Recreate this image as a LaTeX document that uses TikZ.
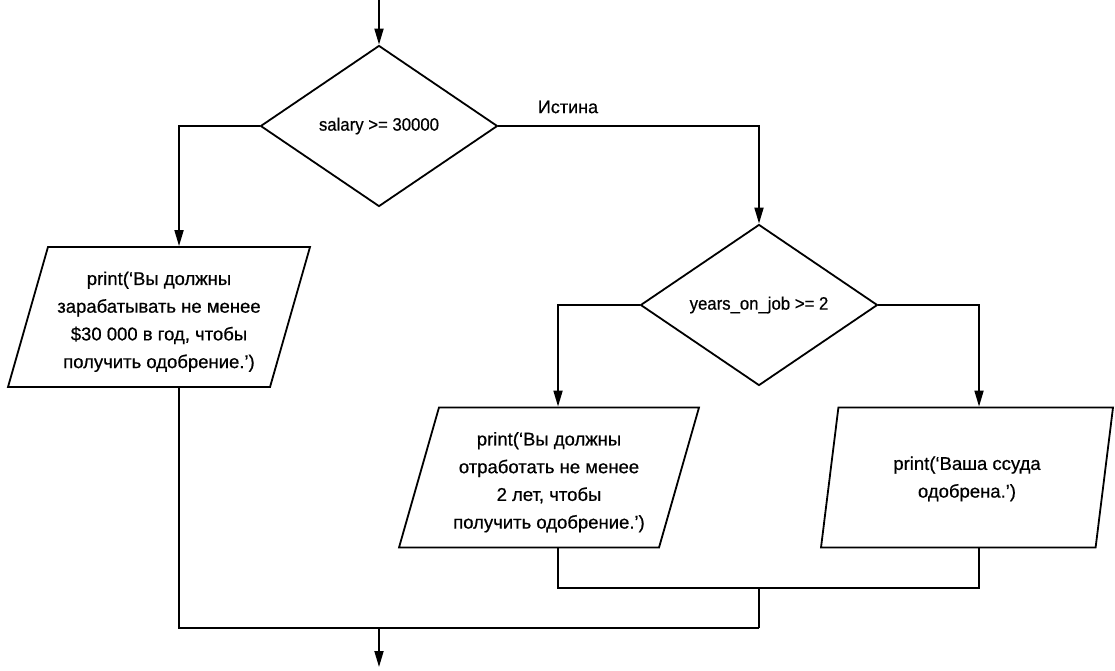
\documentclass[tikz,border=0pt]{standalone}
\usepackage{fontspec}
\setmainfont{Liberation Sans}[FakeBold=0.6]
\newfontfamily\narrowfont{Liberation Sans}[FakeStretch=0.93, FakeBold=0.6]
\usetikzlibrary{shapes.geometric, arrows.meta, positioning}

\begin{document}
\begin{tikzpicture}[x=1pt, y=-1pt]
    % Styles
    \tikzstyle{decision} = [diamond, draw=black, line width=1.8pt, inner sep=0pt,
        minimum width=237pt, minimum height=161pt,
        font=\narrowfont\fontsize{18}{27.5}\selectfont]
    \tikzstyle{io} = [trapezium, trapezium left angle=70, trapezium right angle=110,
        trapezium stretches body, draw=black, line width=1.8pt, inner sep=0pt,
        minimum height=140pt, align=center, font=\fontsize{18.5}{27.7}\selectfont]
    \tikzstyle{line} = [line width=1.8pt, black]
    \tikzstyle{arrow} = [line, -{Triangle[length=16pt, width=9pt]}]
    \useasboundingbox (0,0) rectangle (1115,670);

    % Decisions
    \node [decision] (salary) at (379,126) {salary >= 30000};
    \node [decision] (years) at (759,305) {years\_on\_job >= 2};
    \node [font=\fontsize{18}{20}\selectfont] (truelbl) at (568,107) {Истина};

    % Output blocks
    \node [io, minimum width=302pt, text height=106pt] (lowpay) at (159,317)
        {print(‘Вы должны\\зарабатывать не менее\\\$30 000 в год, чтобы\\получить одобрение.’)};
    \node [io, minimum width=300pt, text height=106pt] (short) at (549,477.5)
        {print(‘Вы должны\\отработать не менее\\2 лет, чтобы\\получить одобрение.’)};
    \node [io, minimum width=292pt, text height=44pt] (ok) at (967,477.5)
        {print(‘Ваша ссуда\\одобрена.’)};

    % Join points
    \coordinate (start) at (379,0);
    \coordinate (join2) at (759,588);
    \coordinate (join1) at (759,628);
    \coordinate (merge) at (379,628);
    \coordinate (finish) at (379,667);

    % Arrows
    \draw [arrow] (start) -- (salary.north);
    \draw [arrow] (salary.east) -| (years.north);
    \draw [arrow] (salary.west) -| ([xshift=20pt]lowpay.north);
    \draw [arrow] (years.west) -| ([xshift=9pt]short.north);
    \draw [arrow] (years.east) -| ([xshift=12pt]ok.north);

    % Merging lines
    \draw [line] ([xshift=9pt]short.south) |- (join2) -| ([xshift=12pt]ok.south);
    \draw [line] (join2) -- (join1);
    \draw [line] ([xshift=20pt]lowpay.south) |- (join1);
    \draw [arrow] (merge) -- (finish);
\end{tikzpicture}
\end{document}
